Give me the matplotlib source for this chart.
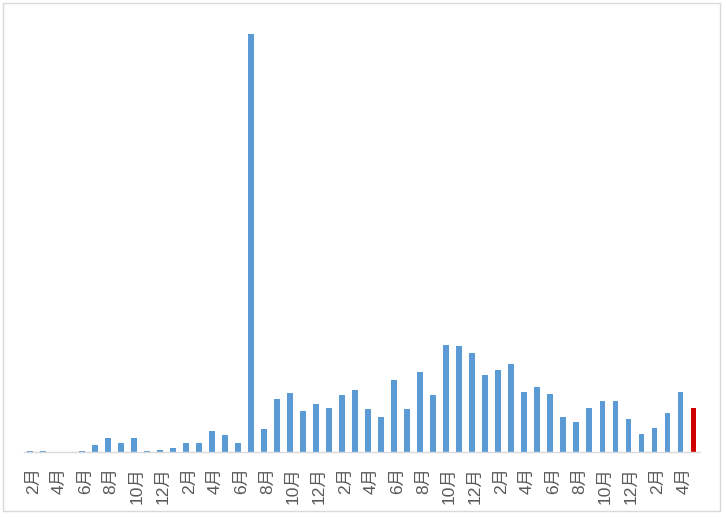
import matplotlib
matplotlib.use('Agg')
import matplotlib.pyplot as plt
from matplotlib.patches import Rectangle
from matplotlib.transforms import ScaledTranslation

# monthly values, Feb of year 1 through May of year 5 (bar heights)
months = [(1 + i) % 12 + 1 for i in range(52)]
labels = [f"{m}月" if i % 2 == 0 else "" for i, m in enumerate(months)]
values = [1, 1, 0, 0, 1, 7, 14, 9, 14, 1,
          2, 4, 9, 9, 21, 17, 9, 418, 23, 53,
          59, 41, 48, 44, 57, 62, 43, 35, 72, 43,
          80, 57, 107, 106, 99, 77, 82, 88, 60, 65,
          58, 35, 30, 44, 51, 51, 33, 18, 24, 39,
          60, 44]
highlight = 51  # latest month in red

blue = "#5B9BD5"
red = "#D00000"
colors = [red if i == highlight else blue for i in range(len(values))]

W, H = 726, 517
fig = plt.figure(figsize=(W / 100, H / 100), dpi=100)
fig.patches.append(Rectangle((3 / W, 6 / H), 717 / W, 508 / H, transform=fig.transFigure,
                             fill=False, edgecolor="#D9D9D9", linewidth=1))

ax = fig.add_axes([23.5 / W, (H - 452) / H, 676.5 / W, 422 / H])
ax.bar(range(len(values)), values, width=0.45, color=colors)
ax.set_xlim(-0.5, len(values) - 0.5)
ax.set_ylim(0, 422)

ax.set_xticks(range(len(values)))
ax.set_xticklabels(labels, rotation=90, fontsize=12.5, color="#595959",
                   family=["Liberation Sans", "Noto Sans CJK JP"])
ax.tick_params(axis="x", length=0, pad=11)
shift = ScaledTranslation(3 / 100, 0, fig.dpi_scale_trans)
for lbl in ax.get_xticklabels():
    lbl.set_transform(lbl.get_transform() + shift)
ax.set_yticks([])
for side in ["top", "left", "right"]:
    ax.spines[side].set_visible(False)
ax.spines["bottom"].set_color("#D9D9D9")
ax.spines["bottom"].set_linewidth(1)

plt.savefig("out.png", dpi=100)
